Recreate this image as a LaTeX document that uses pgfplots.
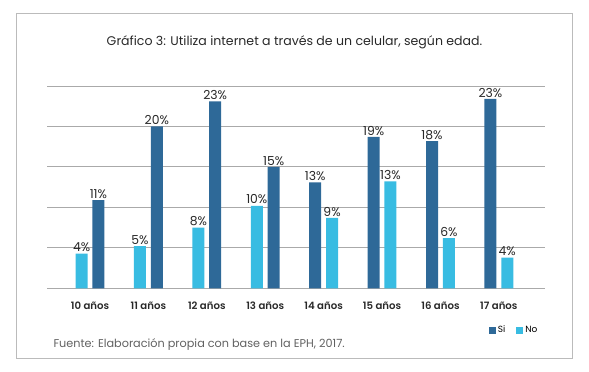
\documentclass[border=0pt]{standalone}
\usepackage{pgfplots}
\pgfplotsset{compat=1.18}
\usepackage{fontspec}
\setmainfont{Poppins}[BoldFont={Poppins SemiBold}]
\definecolor{siblue}{RGB}{46,105,152}
\definecolor{noblue}{RGB}{56,188,226}
\definecolor{gridgray}{RGB}{170,170,170}
\definecolor{txt}{RGB}{40,40,40}
\begin{document}
\begin{tikzpicture}[x=1bp,y=1bp]
\path[use as bounding box] (0,0) rectangle (589,-371);
\draw[color=gridgray!80, line width=1bp] (16,-13) rectangle (572,-358);
\node[txt, font=\fontsize{12.6}{14}\selectfont] at (294.5,-42) {Gráfico 3: Utiliza internet a través de un celular, según edad.};
\node[anchor=base west, color=black!62, font=\fontsize{11.3}{13}\selectfont] at (50,-347) {Fuente: Elaboración propia con base en la EPH, 2017.};
\begin{axis}[
  at={(47bp,-288.3bp)}, anchor=south west,
  scale only axis, width=498bp, height=202.3bp,
  xmin=-0.736, xmax=7.79, ymin=0, ymax=25,
  axis line style={draw=none},
  ytick={0,5,10,15,20,25}, yticklabels={},
  ymajorgrids, grid style={gridgray, line width=0.9bp},
  major tick length=0pt,
  xtick={0,1,2,3,4,5,6,7},
  xticklabels={10 años,11 años,12 años,13 años,14 años,15 años,16 años,17 años},
  xticklabel style={font=\bfseries\fontsize{10.2}{12}\selectfont, text=txt, anchor=base, yshift=-20.9bp},
  clip=false,
  point meta=explicit symbolic,
  nodes near coords={\pgfplotspointmeta\%},
  nodes near coords style={font=\fontsize{12.4}{14}\selectfont, text=txt, inner sep=1.5bp},
  legend style={at={(0.995,-0.165)}, anchor=north east, draw=none, fill=none, legend columns=2,
     font=\fontsize{9}{10}\selectfont, /tikz/every even column/.append style={column sep=9bp}},
  legend image code/.code={\fill[#1] (0bp,-3.5bp) rectangle (7bp,3.5bp);},
]
\addplot[ybar, bar width=12bp, bar shift=0pt, fill=siblue, draw=none] coordinates {
(0.144,10.9)[11] (1.144,20.0)[20] (2.144,23.1)[23] (3.144,15.0)[15]
(3.856,13.1)[13] (4.856,18.7)[19] (5.856,18.2)[18] (6.856,23.4)[23]};
\addlegendentry{Si}
\addplot[ybar, bar width=12bp, bar shift=0pt, fill=noblue, draw=none] coordinates {
(-0.144,4.3)[4] (0.856,5.2)[5] (1.856,7.5)[8] (2.856,10.2)[10]
(4.144,8.7)[9] (5.144,13.2)[13] (6.144,6.2)[6] (7.144,3.8)[4]};
\addlegendentry{No}
\end{axis}
\end{tikzpicture}
\end{document}
